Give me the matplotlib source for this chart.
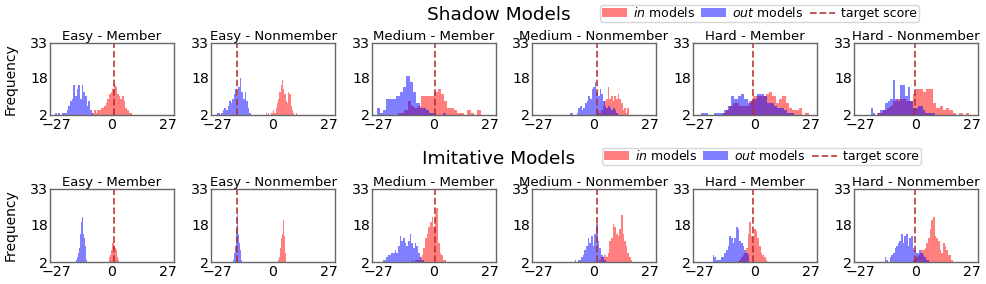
import numpy as np
import matplotlib
matplotlib.use("Agg")
import matplotlib.pyplot as plt
from matplotlib.patches import Patch
from matplotlib.lines import Line2D

plt.rcParams['font.family'] = ['DejaVu Sans']
plt.rcParams['mathtext.fontset'] = 'dejavusans'

panel_titles = ["Easy - Member", "Easy - Nonmember", "Medium - Member",
                "Medium - Nonmember", "Hard - Member", "Hard - Nonmember"]
row_titles = ["Shadow Models", "Imitative Models"]
target_scores = [1.2, -17.5, 0.6, 1.6, -0.8, -0.7]
x_ticks = [-27, 0, 27]
y_ticks = [2, 18, 33]

# histogram bins: start, width, counts  (shadow row)
shadow_in_start = [-9.5, -3.5, -17.5, 1.0, -15.6, -19.0]
shadow_in_width = [0.8, 0.6, 1.6, 0.8, 1.6, 1.6]
shadow_in_counts = [
    [3, 4, 3, 4, 4, 5, 5, 6, 7, 9, 11, 12, 13, 15, 14, 11, 10, 9, 10, 8, 5, 4, 3, 3],
    [3, 2, 3, 2, 3, 3, 4, 3, 5, 7, 9, 12, 15, 17, 13, 11, 8, 7, 12, 11, 6, 4, 3, 2, 3],
    [3, 3, 4, 8, 6, 5, 6, 10, 10, 10, 10, 12, 13, 11, 8, 5, 5, 4, 3, 3, 2, 4, 3, 2, 4],
    [3, 4, 3, 4, 6, 8, 9, 14, 9, 10, 8, 10, 9, 11, 9, 7, 4, 5, 3, 5],
    [3, 4, 6, 7, 7, 6, 6, 6, 8, 10, 10, 10, 10, 11, 12, 10, 7, 9, 10, 7, 5, 4, 4, 5, 2, 3, 2],
    [3, 3, 4, 5, 6, 8, 9, 9, 9, 8, 8, 11, 13, 13, 12, 13, 13, 7, 5, 6, 4, 5, 4, 3, 2, 3, 2, 3],
]
shadow_out_start = [-27.5, -28.0, -27.8, -11.6, -26.0, -22.0]
shadow_out_width = [0.8, 0.75, 1.6, 0.8, 1.6, 1.2]
shadow_out_counts = [
    [3, 2, 3, 2, 3, 3, 3, 4, 6, 8, 9, 15, 10, 13, 15, 9, 15, 12, 10, 6, 8, 4, 3, 2],
    [2, 3, 3, 2, 3, 4, 5, 4, 6, 8, 7, 9, 11, 13, 10, 14, 18, 12, 9, 12, 8, 5, 3, 2],
    [5, 3, 4, 9, 9, 9, 10, 12, 14, 19, 16, 12, 7, 5, 5, 4, 3, 3, 2, 2, 3],
    [3, 3, 2, 2, 3, 5, 6, 4, 5, 7, 8, 10, 9, 13, 14, 16, 12, 10, 13, 11, 8, 6, 5, 6, 5, 4, 5, 4, 3],
    [3, 3, 2, 2, 3, 3, 3, 4, 6, 10, 9, 10, 11, 9, 7, 8, 9, 11, 11, 10, 7, 7, 6, 5, 5, 4, 3, 3],
    [5, 3, 2, 3, 4, 4, 7, 8, 9, 17, 9, 8, 15, 15, 10, 14, 8, 5, 5, 6, 6, 4, 3, 3, 3, 3],
]

# imitative row
imit_in_start = [-1.6, 2.3, -10.8, 2.6, -7.6, -1.4]
imit_in_width = [0.35, 0.3, 0.8, 0.8, 0.8, 0.8]
imit_in_counts = [
    [3, 4, 5, 7, 8, 10, 11, 11, 9, 8, 7, 5, 4, 3, 2],
    [2, 3, 4, 6, 8, 10, 12, 14, 19, 20, 13, 10, 6, 4, 2],
    [3, 2, 3, 3, 3, 4, 5, 8, 12, 14, 17, 19, 21, 17, 22, 25, 10, 6, 5, 3, 3],
    [3, 4, 4, 5, 4, 6, 11, 12, 18, 17, 14, 13, 16, 22, 14, 11, 9, 6, 4, 3],
    [3, 4, 5, 6, 8, 14, 19, 13, 11, 16, 15, 12, 9, 6, 5, 4, 3],
    [3, 4, 4, 5, 6, 7, 7, 8, 10, 12, 16, 20, 21, 13, 12, 11, 7, 6, 10, 9, 7, 5, 5, 3],
]
imit_out_start = [-18.0, -19.8, -25.4, -10.2, -20.4, -15.2]
imit_out_width = [0.4, 0.35, 0.8, 0.8, 0.8, 0.8]
imit_out_counts = [
    [2, 2, 3, 4, 6, 8, 14, 16, 19, 21, 14, 12, 9, 5, 3],
    [2, 3, 4, 6, 9, 12, 16, 22, 14, 12, 10, 7, 5, 3, 2],
    [2, 3, 3, 4, 5, 5, 6, 6, 7, 6, 9, 13, 11, 12, 10, 9, 11, 14, 10, 8, 10, 9, 6, 4, 3, 3, 2],
    [2, 3, 2, 3, 3, 4, 5, 7, 9, 12, 10, 13, 9, 14, 18, 11, 8, 5, 4, 3],
    [5, 4, 3, 3, 3, 4, 4, 6, 7, 9, 13, 12, 10, 12, 17, 16, 11, 10, 9, 7, 6, 5],
    [4, 3, 2, 4, 5, 6, 8, 9, 10, 11, 14, 10, 13, 14, 9, 12, 13, 8, 7, 6, 6, 7, 6, 5, 4, 3, 3],
]

rows = [
    (shadow_in_start, shadow_in_width, shadow_in_counts,
     shadow_out_start, shadow_out_width, shadow_out_counts),
    (imit_in_start, imit_in_width, imit_in_counts,
     imit_out_start, imit_out_width, imit_out_counts),
]

W, H = 986, 284
fig = plt.figure(figsize=(W / 100, H / 100), dpi=100)

lefts_px = [50, 211, 372, 532, 693, 854]
ax_w_px = 124
row_top_px = [43, 189]
row_bot_px = [115, 262]
title_base_px = [20, 164]
legend_left_px = [600, 602]
legend_cy_px = [13, 156]

RED = 'red'
BLUE = 'blue'
LINE = '#b52a2a'
SPINE = '#666666'


def draw_hist(ax, start, width, counts, color):
    counts = np.asarray(counts, dtype=float)
    edges = start + width * np.arange(len(counts) + 1)
    centers = 0.5 * (edges[:-1] + edges[1:])
    ax.hist(centers, bins=edges, weights=counts, color=color, alpha=0.5)


for r, (is_, iw, ic, os_, ow, oc) in enumerate(rows):
    for c in range(6):
        l = lefts_px[c] / W
        b = 1 - row_bot_px[r] / H
        h = (row_bot_px[r] - row_top_px[r]) / H
        ax = fig.add_axes([l, b, ax_w_px / W, h])
        draw_hist(ax, is_[c], iw[c], ic[c], RED)
        draw_hist(ax, os_[c], ow[c], oc[c], BLUE)
        ax.axvline(target_scores[c], color=LINE, linestyle='--', linewidth=1.3, alpha=0.85)
        ax.set_xlim(-30, 30)
        ax.set_ylim(2, 33)
        ax.set_xticks(x_ticks)
        ax.set_yticks(y_ticks)
        ax.tick_params(axis='both', length=0, labelsize=10.2)
        ax.tick_params(axis='x', pad=2.0)
        ax.tick_params(axis='y', pad=1.2)
        for s in ax.spines.values():
            s.set_color(SPINE)
            s.set_linewidth(1.0)
        ax.set_title(panel_titles[c], fontsize=9.5, pad=1.8)
        if c == 0:
            ax.set_ylabel("Frequency", fontsize=10)
            ax.yaxis.set_label_coords(-0.262, 0.5)

    fig.text(499 / W, 1 - title_base_px[r] / H, row_titles[r], ha='center',
             va='baseline', fontsize=13.3)
    handles = [Patch(facecolor=RED, alpha=0.5, edgecolor='none'),
               Patch(facecolor=BLUE, alpha=0.5, edgecolor='none'),
               Line2D([0], [0], color=LINE, linestyle='--', linewidth=1.3, alpha=0.85)]
    labels = [r'$\it{in}$ models', r'$\it{out}$ models', 'target score']
    fig.legend(handles, labels, loc='center left',
               bbox_to_anchor=(legend_left_px[r] / W, 1 - legend_cy_px[r] / H),
               ncol=3, fontsize=9, handlelength=2.0, handletextpad=0.5,
               columnspacing=0.5, borderpad=0.12, borderaxespad=0.0,
               frameon=True)

fig.savefig("out.png", dpi=100)
